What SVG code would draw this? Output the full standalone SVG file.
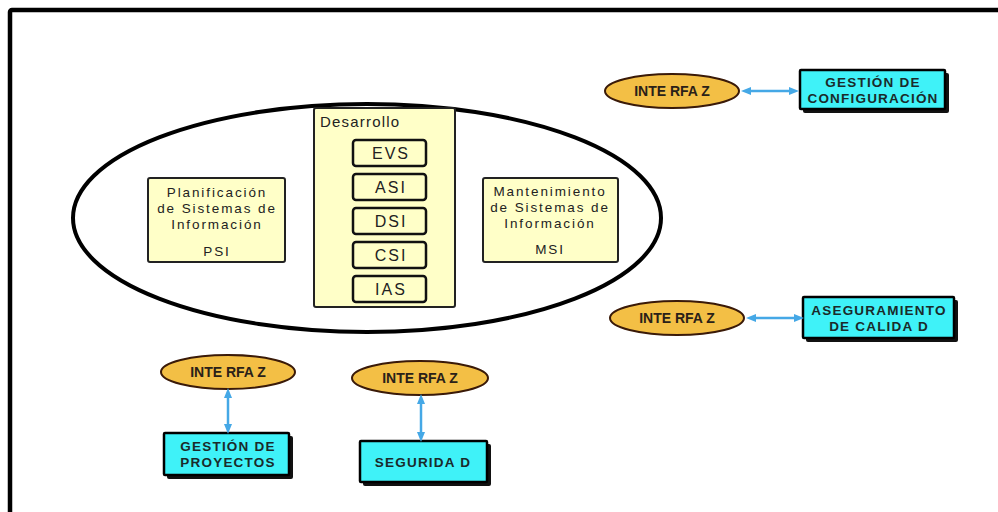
<svg xmlns="http://www.w3.org/2000/svg" width="998" height="512" viewBox="0 0 998 512">
<style>
.frame{fill:none;stroke:#000;stroke-width:4.5}
.big{fill:#fff;stroke:#000;stroke-width:4}
.yb{fill:#FFFFC8;stroke:#222;stroke-width:2}
.ib{fill:#FFFFC8;stroke:#111;stroke-width:2.5}
.ifz{fill:#F3BF45;stroke:#3a1a08;stroke-width:2}
.cy{fill:#3FF2F8;stroke:#000;stroke-width:2.5}
.sh{fill:#111}
.t{font-family:"Liberation Sans",Arial,sans-serif;font-size:13.5px;fill:#222;text-anchor:middle;letter-spacing:1.9px}
.tb{font-family:"Liberation Sans",Arial,sans-serif;font-size:16px;fill:#222;text-anchor:middle;letter-spacing:2px}
.tl{font-family:"Liberation Sans",Arial,sans-serif;font-size:15px;fill:#222;letter-spacing:1.2px}
.ti{font-family:"Liberation Sans",Arial,sans-serif;font-size:14px;font-weight:bold;fill:#2a2118;text-anchor:middle}
.tc{font-family:"Liberation Sans",Arial,sans-serif;font-size:13.5px;font-weight:bold;fill:#1a2a2a;text-anchor:middle;letter-spacing:1.2px}
.con{stroke:#45A8E6;stroke-width:2.5;fill:none}
</style>
<defs>
<marker id="ah" viewBox="0 0 10 10" refX="5" refY="5" markerWidth="4" markerHeight="4" orient="auto-start-reverse" markerUnits="strokeWidth">
<path d="M0,1 L10,5 L0,9 z" fill="#45A8E6"/>
</marker>
</defs>
<rect class="frame" x="10" y="10" width="1000" height="520" rx="2"/>
<g id="ciclo">
<ellipse class="big" cx="367" cy="218" rx="294" ry="114"/>
</g>
<g id="psi">
<rect class="yb" x="148" y="178" width="137" height="84" rx="2"/>
<text class="t" x="217" y="197">Planificación</text>
<text class="t" x="217" y="213">de Sistemas de</text>
<text class="t" x="217" y="229">Información</text>
<text class="t" x="217" y="256">PSI</text>
</g>
<g id="msi">
<rect class="yb" x="483" y="178" width="135" height="84" rx="2"/>
<text class="t" x="550" y="196">Mantenimiento</text>
<text class="t" x="550" y="212">de Sistemas de</text>
<text class="t" x="550" y="228">Información</text>
<text class="t" x="550" y="254">MSI</text>
</g>
<g id="desarrollo">
<rect class="yb" x="314" y="108" width="141" height="199" rx="2"/>
<text class="tl" x="320" y="127">Desarrollo</text>
</g>
<g id="evs"><rect class="ib" x="353" y="140" width="73" height="26" rx="3"/><text class="tb" x="391" y="159">EVS</text></g>
<g id="asi"><rect class="ib" x="353" y="174" width="73" height="26" rx="3"/><text class="tb" x="391" y="193">ASI</text></g>
<g id="dsi"><rect class="ib" x="353" y="208" width="73" height="26" rx="3"/><text class="tb" x="391" y="227">DSI</text></g>
<g id="csi"><rect class="ib" x="353" y="242" width="73" height="26" rx="3"/><text class="tb" x="391" y="261">CSI</text></g>
<g id="ias"><rect class="ib" x="353" y="276" width="73" height="26" rx="3"/><text class="tb" x="391" y="295">IAS</text></g>

<g id="interfaz1"><ellipse class="ifz" cx="672" cy="91" rx="67" ry="17"/><text class="ti" x="672" y="96">INTE RFA Z</text></g>
<g id="interfaz2"><ellipse class="ifz" cx="677" cy="318" rx="67" ry="17"/><text class="ti" x="677" y="323">INTE RFA Z</text></g>
<g id="interfaz3"><ellipse class="ifz" cx="228" cy="372" rx="67" ry="17"/><text class="ti" x="228" y="377">INTE RFA Z</text></g>
<g id="interfaz4"><ellipse class="ifz" cx="420" cy="378" rx="68" ry="17"/><text class="ti" x="420" y="383">INTE RFA Z</text></g>

<g id="gconf">
<rect class="sh" x="803" y="73" width="146" height="40" rx="2"/>
<rect class="cy" x="800" y="70" width="145" height="39" rx="1"/>
<text class="tc" x="873" y="87">GESTIÓN DE</text>
<text class="tc" x="873" y="103">CONFIGURACIÓN</text>
</g>
<g id="calidad">
<rect class="sh" x="806" y="300" width="152" height="42" rx="2"/>
<rect class="cy" x="803" y="297" width="151" height="41" rx="1"/>
<text class="tc" x="879" y="315">ASEGURAMIENTO</text>
<text class="tc" x="879" y="331">DE CALIDA D</text>
</g>
<g id="gproy">
<rect class="sh" x="167" y="436" width="126" height="43" rx="2"/>
<rect class="cy" x="164" y="433" width="125" height="42" rx="1"/>
<text class="tc" x="228" y="451">GESTIÓN DE</text>
<text class="tc" x="228" y="467">PROYECTOS</text>
</g>
<g id="seguridad">
<rect class="sh" x="363" y="444" width="128" height="42" rx="2"/>
<rect class="cy" x="360" y="441" width="127" height="41" rx="1"/>
<text class="tc" x="423" y="467">SEGURIDA D</text>
</g>

<g id="connectors">
<line class="con" x1="746" y1="91" x2="794" y2="91" marker-start="url(#ah)" marker-end="url(#ah)"/>
<line class="con" x1="751" y1="318" x2="799" y2="318" marker-start="url(#ah)" marker-end="url(#ah)"/>
<line class="con" x1="228" y1="393" x2="228" y2="429" marker-start="url(#ah)" marker-end="url(#ah)"/>
<line class="con" x1="421" y1="399" x2="421" y2="437" marker-start="url(#ah)" marker-end="url(#ah)"/>
</g>
</svg>
